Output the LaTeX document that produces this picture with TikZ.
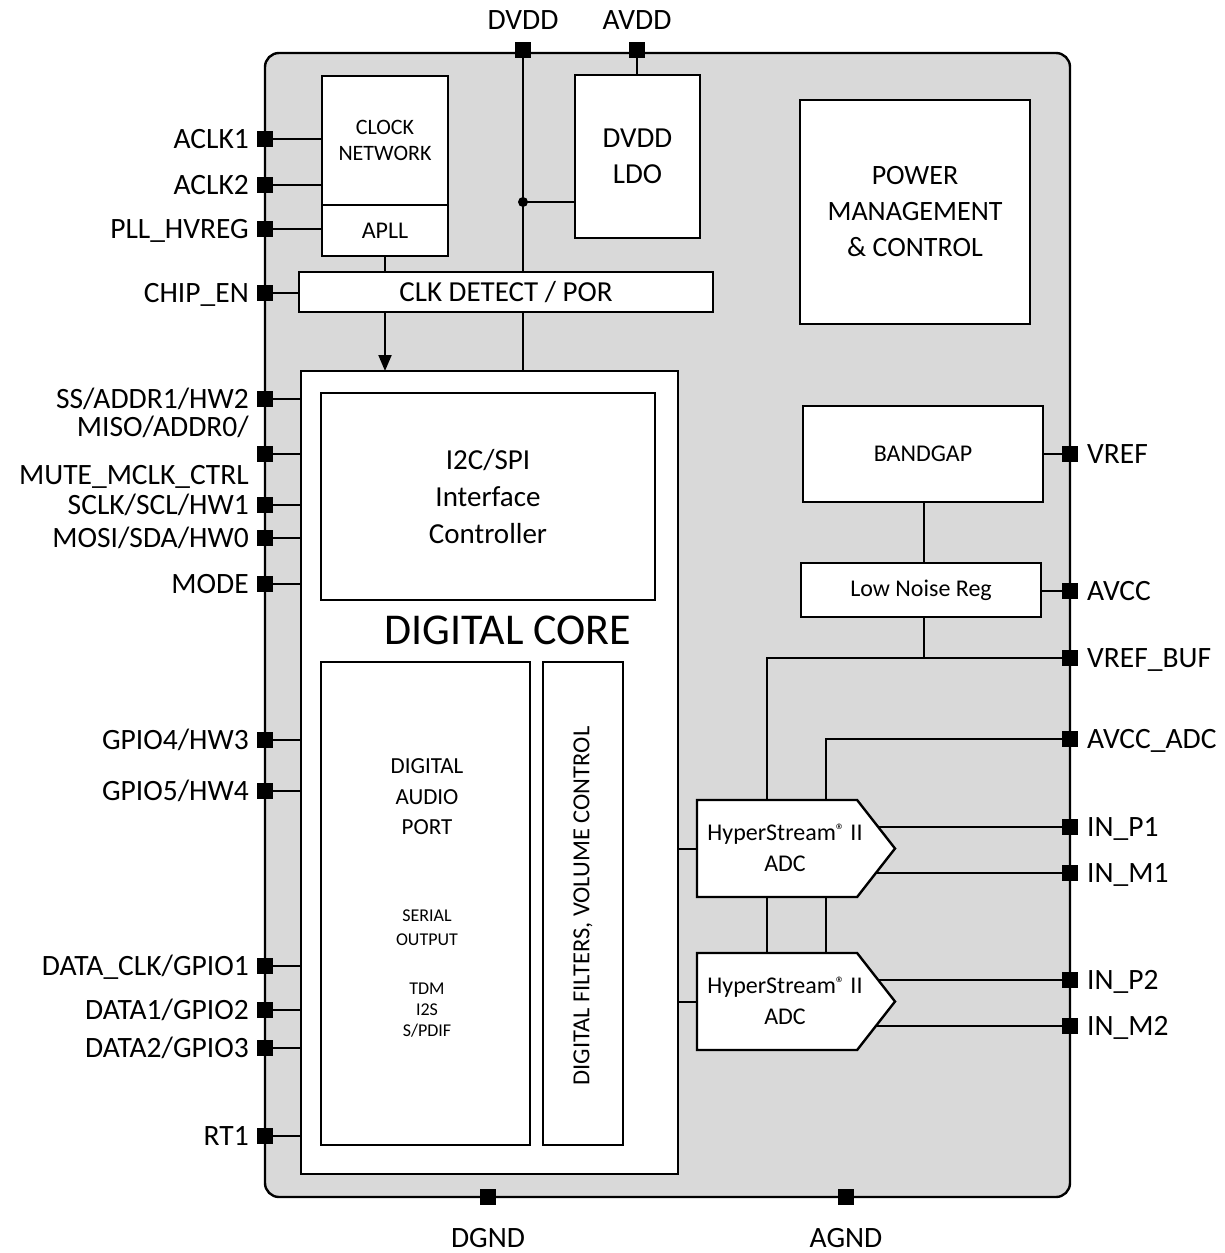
\documentclass[tikz,border=0pt]{standalone}
\usepackage{fontspec}
\setmainfont{Carlito}
\usetikzlibrary{arrows.meta,shapes.symbols}
\definecolor{chipgray}{HTML}{D9D9D9}
\pgfdeclarelayer{back}
\pgfdeclarelayer{wires}
\pgfsetlayers{back,wires,main}
\newcommand{\regmark}{\raisebox{0.4ex}{\fontsize{18}{18}\selectfont ®}}
\begin{document}
\begin{tikzpicture}[x=1pt,y=-1pt,
  box/.style={draw, fill=white, line width=2.4pt, align=center, inner sep=0pt, outer sep=0pt, anchor=north west},
  pinsq/.style={fill=black, minimum size=16pt, inner sep=0pt, outer sep=0pt},
  lbl/.style={inner sep=0pt, font=\fontsize{29.5}{34}\selectfont, text height=19pt, text depth=0pt},
  wire/.style={line width=2pt},
  adc/.style={draw, fill=white, line width=2.4pt, shape=signal, signal to=east, signal pointer angle=104, minimum width=198pt, minimum height=97pt, inner sep=0pt, outer sep=0pt, anchor=west},
  adctxt/.style={font=\fontsize{24}{31}\selectfont, align=center, inner sep=0pt}]
\useasboundingbox (0,0) rectangle (1225,1253);

% chip body
\begin{pgfonlayer}{back}
\draw[line width=2.4pt, fill=chipgray, rounded corners=14pt] (265,53) rectangle (1070,1197);
\end{pgfonlayer}

% blocks
\node[box, minimum width=126pt, minimum height=129pt, font=\fontsize{22}{26}\selectfont] (clk) at (322,76) {CLOCK\\NETWORK};
\node[box, minimum width=126pt, minimum height=51pt, font=\fontsize{24}{28}\selectfont] (apll) at (322,205) {APLL};
\node[box, minimum width=125pt, minimum height=163pt, font=\fontsize{29}{36}\selectfont] (ldo) at (575,75) {DVDD\\LDO};
\node[box, minimum width=414pt, minimum height=40pt, font=\fontsize{29}{34}\selectfont] (cdp) at (299,272) {CLK DETECT / POR};
\node[box, minimum width=230pt, minimum height=224pt, font=\fontsize{28}{36}\selectfont] (pmc) at (800,100) {POWER\\MANAGEMENT\\\& CONTROL};
\node[box, minimum width=377pt, minimum height=803pt] (core) at (301,371) {};
\node[box, minimum width=334pt, minimum height=207pt, font=\fontsize{29}{37}\selectfont] (i2c) at (321,393) {I2C/SPI\\Interface\\Controller};
\node[inner sep=0pt, font=\fontsize{44}{50}\selectfont] (coret) at (508,630) {DIGITAL CORE};
\node[box, minimum width=209pt, minimum height=483pt] (dap) at (321,662) {};
\node[box, minimum width=80pt, minimum height=483pt] (dfv) at (543,662) {};
\node[align=center, inner sep=0pt, font=\fontsize{23}{30.5}\selectfont] (dapt1) at (427,797) {DIGITAL\\AUDIO\\PORT};
\node[align=center, inner sep=0pt, font=\fontsize{18}{24}\selectfont] (dapt2) at (427,928) {SERIAL\\OUTPUT};
\node[align=center, inner sep=0pt, font=\fontsize{18}{21}\selectfont] (dapt3) at (427,1010) {TDM\\I2S\\S/PDIF};
\node[inner sep=0pt, rotate=90, font=\fontsize{24.5}{28}\selectfont] (dfvt) at (583,906) {DIGITAL FILTERS, VOLUME CONTROL};
\node[box, minimum width=240pt, minimum height=96pt, font=\fontsize{24}{28}\selectfont] (bg) at (803,406) {BANDGAP};
\node[box, minimum width=240pt, minimum height=54pt, font=\fontsize{24}{28}\selectfont] (lnr) at (801,563) {Low Noise Reg};
\node[adc] (adc1) at (697,848.5) {};
\node[adc] (adc2) at (697,1001.5) {};
\node[adctxt] (adc1t) at (785,848) {HyperStream\regmark{} II\\ADC};
\node[adctxt] (adc2t) at (785,1001) {HyperStream\regmark{} II\\ADC};

% pins: top / bottom
\node[pinsq] (pDVDD) at (523,50) {};
\node[pinsq] (pAVDD) at (637,50) {};
\node[pinsq] (pDGND) at (488,1197) {};
\node[pinsq] (pAGND) at (846,1197) {};
\node[lbl, anchor=center] (lDVDD) at (523,20) {DVDD};
\node[lbl, anchor=center] (lAVDD) at (637,20) {AVDD};
\node[lbl, anchor=center] (lDGND) at (488,1238) {DGND};
\node[lbl, anchor=center] (lAGND) at (846,1238) {AGND};

% left pins
\foreach \n/\y/\t in {ACLKa/139/ACLK1, ACLKb/185/ACLK2, PLL/229/{PLL\_HVREG}, CHIP/293/{CHIP\_EN},
  SS/399/{SS/ADDR1/HW2}, MISO/454/{}, SCLK/505/{SCLK/SCL/HW1}, MOSI/538/{MOSI/SDA/HW0}, MODE/584/MODE,
  GPIOa/740/{GPIO4/HW3}, GPIOb/791/{GPIO5/HW4}, DCLK/966/{DATA\_CLK/GPIO1}, DATa/1010/{DATA1/GPIO2},
  DATb/1048/{DATA2/GPIO3}, RT/1136/RT1}{
  \node[pinsq] (p\n) at (265,\y) {};
  \node[lbl, anchor=east] (l\n) at (249,\y) {\t};
}
\node[inner sep=0pt, anchor=east, align=right, font=\fontsize{29.5}{48}\selectfont] (lMISOb) at (249,452) {MISO/ADDR0/\\MUTE\_MCLK\_CTRL};

% right pins
\foreach \n/\y/\t in {VREF/454/VREF, AVCC/591/AVCC, VBUF/658/{VREF\_BUF}, AADC/739/{AVCC\_ADC},
  INPa/827/{IN\_P1}, INMa/873/{IN\_M1}, INPb/980/{IN\_P2}, INMb/1026/{IN\_M2}}{
  \node[pinsq] (p\n) at (1070,\y) {};
  \node[lbl, anchor=west] (l\n) at (1087,\y) {\t};
}

\coordinate (dj) at (523,202);

% wires
\begin{pgfonlayer}{wires}
\draw[wire] (pDVDD.center) -- (pDVDD.center |- cdp.north);
\draw[wire] (pDVDD.center |- cdp.south) -- (pDVDD.center |- core.north);
\draw[wire] (dj) -- (dj -| ldo.west);
\draw[wire] (pAVDD.center) -- (pAVDD.center |- ldo.north);
\draw[wire] (apll.south) -- (apll.south |- cdp.north);
\draw[wire, -{Triangle[length=16pt,width=13pt]}] (apll.south |- cdp.south) -- (apll.south |- core.north);
\draw[wire] (pACLKa.center) -- (pACLKa.center -| clk.west);
\draw[wire] (pACLKb.center) -- (pACLKb.center -| clk.west);
\draw[wire] (pPLL.center) -- (pPLL.center -| apll.west);
\draw[wire] (pCHIP.center) -- (pCHIP.center -| cdp.west);
\foreach \n in {SS,MISO,SCLK,MOSI,MODE}{\draw[wire] (p\n.center) -- (p\n.center -| i2c.west);}
\foreach \n in {GPIOa,GPIOb,DCLK,DATa,DATb,RT}{\draw[wire] (p\n.center) -- (p\n.center -| core.west);}
\draw[wire] (pVREF.center) -- (pVREF.center -| bg.east);
\draw[wire] (pAVCC.center) -- (pAVCC.center -| lnr.east);
\draw[wire] (bg.south -| 924,0) -- (lnr.north -| 924,0);
\draw[wire] (lnr.south -| 924,0) -- (pVBUF.center -| 924,0);
\draw[wire] (pVBUF.center) -- (pVBUF.center -| 767,0) -- (adc1.north -| 767,0);
\draw[wire] (pAADC.center) -- (pAADC.center -| 826,0) -- (adc1.north -| 826,0);
\draw[wire] (adc1.south -| 767,0) -- (adc2.north -| 767,0);
\draw[wire] (adc1.south -| 826,0) -- (adc2.north -| 826,0);
\draw[wire] (pINPa.center) -- (pINPa.center -| adc1.center);
\draw[wire] (pINMa.center) -- (pINMa.center -| adc1.center);
\draw[wire] (pINPb.center) -- (pINPb.center -| adc2.center);
\draw[wire] (pINMb.center) -- (pINMb.center -| adc2.center);
\draw[wire] (dap.east |- adc1.west) -- (dfv.west |- adc1.west);
\draw[wire] (dfv.east |- adc1.west) -- (adc1.west);
\draw[wire] (dap.east |- adc2.west) -- (dfv.west |- adc2.west);
\draw[wire] (dfv.east |- adc2.west) -- (adc2.west);
\end{pgfonlayer}
\fill (dj) circle (5pt);
\end{tikzpicture}
\end{document}
